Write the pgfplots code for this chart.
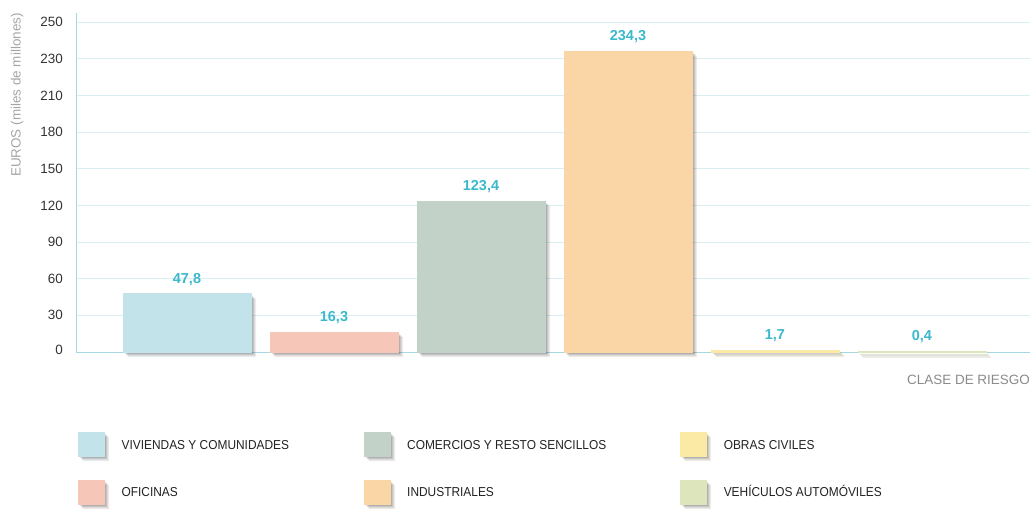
\documentclass[border=0pt]{standalone}
\usepackage{pgfplots}
\pgfplotsset{compat=1.18}
\usepackage{fontspec}
\setmainfont{Liberation Sans}
\newfontfamily\condfont[FakeStretch=0.92]{Liberation Sans}
\definecolor{cViv}{HTML}{C3E3EA}
\definecolor{cOfi}{HTML}{F6C6B9}
\definecolor{cCom}{HTML}{C3D2C9}
\definecolor{cInd}{HTML}{FAD5A5}
\definecolor{cObr}{HTML}{FAEAA5}
\definecolor{cVeh}{HTML}{DDE5BC}
\definecolor{labc}{HTML}{3AB9CC}
\definecolor{gridc}{HTML}{D8EEF2}
\definecolor{axisc}{HTML}{A6D8E1}
\definecolor{tickc}{HTML}{333333}
\definecolor{legc}{HTML}{222222}
\definecolor{grayc}{HTML}{8A8A8A}
\definecolor{ylabc}{HTML}{A5A5A5}
\tikzset{
  softshadow/.style={
    preaction={fill=black, opacity=0.07, transform canvas={xshift=5bp,yshift=-5bp}},
    preaction={fill=black, opacity=0.08, transform canvas={xshift=4bp,yshift=-4bp}},
    preaction={fill=black, opacity=0.10, transform canvas={xshift=3bp,yshift=-3bp}},
    preaction={fill=black, opacity=0.10, transform canvas={xshift=2bp,yshift=-2bp}}},
}
\pgfplotsset{
  mybar/.style={fill=#1, draw=#1, line width=0.6bp, bar shift=0pt, bar width=128bp, /tikz/softshadow},
}
\begin{document}
\begin{tikzpicture}
\begin{axis}[
  scale only axis, width=954bp, height=339bp,
  xmin=-0.755, xmax=5.735, ymin=0, ymax=255,
  y coord trafo/.code={\pgfmathparse{ifthenelse(#1<=210,#1/30,7+(#1-210)/20)}},
  y coord inv trafo/.code={\pgfmathparse{ifthenelse(#1<=7,#1*30,210+(#1-7)*20)}},
  ybar, bar shift=0pt,
  axis x line*=bottom, axis y line*=left,
  axis line style={draw=axisc, line width=1bp, -},
  xtick=\empty,
  ytick={0,30,60,90,120,150,180,210,230,250},
  yticklabels={\raisebox{5bp}{0},30,60,90,120,150,180,210,230,250},
  major tick length=0pt,
  ymajorgrids, grid style={draw=gridc, line width=1bp},
  yticklabel style={inner sep=0pt, xshift=-13bp, text=tickc, font=\fontsize{13.5}{13.5}\selectfont},
  nodes near coords, point meta=explicit symbolic,
  every node near coord/.append style={font=\bfseries\fontsize{14.5}{14.5}\selectfont, text=labc, inner sep=0pt, anchor=south, yshift=8bp},
  clip=false,
  legend columns=2, transpose legend,
  legend style={at={(axis description cs:0.0021,-0.236)}, anchor=north west, draw=none, fill=none,
    inner sep=0pt, outer sep=0pt, row sep=23bp,
    font=\condfont\fontsize{13}{13}\selectfont, text=legc,
    cells={anchor=base west},
    /tikz/every odd column/.append style={column sep=15bp}},
  legend image code/.code={\fill[#1] (0bp,-7.3bp) rectangle (26bp,16.7bp);},
]
\addplot[mybar=cViv] coordinates {(0,47.8) [47,8]};
\addlegendentry{\makebox[240bp][l]{VIVIENDAS Y COMUNIDADES}}
\addplot[mybar=cOfi] coordinates {(1,16.3) [16,3]};
\addlegendentry{\makebox[240bp][l]{OFICINAS}}
\addplot[mybar=cCom] coordinates {(2,123.4) [123,4]};
\addlegendentry{\makebox[271bp][l]{COMERCIOS Y RESTO SENCILLOS}}
\addplot[mybar=cInd] coordinates {(3,234.3) [234,3]};
\addlegendentry{\makebox[271bp][l]{INDUSTRIALES}}
\addplot[mybar=cObr] coordinates {(4,1.7) [1,7]};
\addlegendentry{OBRAS CIVILES}
\addplot[mybar=cVeh] coordinates {(5,0.4) [0,4]};
\addlegendentry{VEHÍCULOS AUTOMÓVILES}
\node[anchor=east, inner sep=0pt, text=grayc, font=\fontsize{13.5}{13.5}\selectfont] at (axis description cs:1.0,-0.083) {CLASE DE RIESGO};
\node[rotate=90, anchor=east, inner sep=0pt, text=ylabc, font=\fontsize{13.5}{13.5}\selectfont] at (axis description cs:-0.0618,1.0) {EUROS (miles de millones)};
\coordinate (bbA) at (axis description cs:-0.07966,1.03835);
\coordinate (bbB) at (axis description cs:1.002096,-0.46903);
\end{axis}
\pgfresetboundingbox
\path[use as bounding box] (bbA) rectangle (bbB);
\end{tikzpicture}
\end{document}
